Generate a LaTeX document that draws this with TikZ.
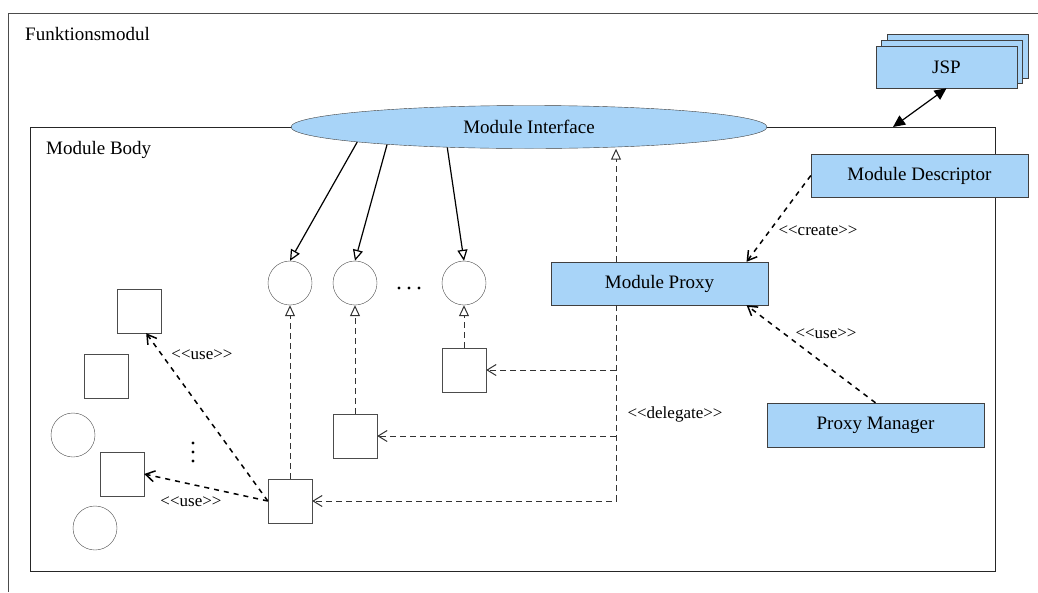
\documentclass[tikz,border=0pt]{standalone}
\usepackage{fontspec}
\setmainfont{Liberation Serif}
\usetikzlibrary{arrows.meta,shapes.geometric}
\definecolor{boxblue}{RGB}{168,212,248}
\begin{document}
\begin{tikzpicture}[x=1pt,y=-1pt,
    every node/.style={font=\fontsize{19}{22}\selectfont},
    bluebox/.style={draw=black!75,fill=boxblue,minimum width=217pt,minimum height=43pt,inner sep=0pt},
    whitebox/.style={draw=black!70,fill=white,minimum size=44pt,inner sep=0pt},
    whitecirc/.style={whitebox,circle},
    lbl/.style={font=\fontsize{17}{19}\selectfont,inner sep=0pt},
    realize/.style={draw=black!80,line width=1pt,dash pattern=on 6pt off 4pt,-{Triangle[open,length=11pt,width=10pt]}},
    delegate/.style={draw=black!80,line width=1pt,dash pattern=on 6pt off 4pt,-{Straight Barb[length=9pt,width=11pt]}},
    uselink/.style={line width=1.5pt,dash pattern=on 5pt off 5pt,-{Straight Barb[length=9pt,width=11pt]}}]
  \useasboundingbox (0,0) rectangle (1038,592);
  % frames
  \draw[black!70,line width=1pt] (1038,13) -- (8,13) -- (8,592);
  \node[anchor=base west,inner sep=0pt] (fm) at (25,40) {Funktionsmodul};
  \draw[black!85,line width=1pt] (30,127) rectangle (995,571);
  \node[anchor=base west,inner sep=0pt] (mb) at (46,154) {Module Body};
  \node[draw=black!75,fill=boxblue,ellipse,minimum width=476pt,minimum height=43pt,inner sep=0pt] (iface) at (529,127) {Module Interface};
  % jsp stack
  \node[bluebox,minimum width=141pt,minimum height=44pt] (jsp3) at (957.5,56) {};
  \node[bluebox,minimum width=141pt,minimum height=43pt] (jsp2) at (952,61.5) {};
  \node[bluebox,minimum width=141pt,minimum height=42pt] (jsp) at (946.5,67) {JSP};
  \coordinate (jspend) at (893,127);
  \draw[line width=1.2pt,{Triangle[length=12pt,width=11pt]}-{Triangle[length=12pt,width=11pt]}] (jsp.south) -- (jspend);
  % boxes
  \node[bluebox] (desc) at (919.5,175.5) {Module Descriptor};
  \node[bluebox] (proxy) at (659.5,283.5) {Module Proxy};
  \node[bluebox,minimum height=44pt] (mgr) at (875.5,425) {Proxy Manager};
  % interfaces and classes
  \node[whitecirc] (ci1) at (290,283) {};
  \node[whitecirc] (ci2) at (355,283) {};
  \node[whitecirc] (ci3) at (464,283) {};
  \foreach \x in {399,409,419} \fill (\x,288) circle (1.6pt);
  \node[whitebox] (sqa) at (464,370) {};
  \node[whitebox] (sqb) at (355,436) {};
  \node[whitebox] (sqc) at (290,501) {};
  \node[whitebox] (sqd) at (139,311) {};
  \node[whitebox] (sqe) at (106,376) {};
  \node[whitecirc] (cif) at (73,435) {};
  \node[whitebox] (sqg) at (122,474) {};
  \node[whitecirc] (cih) at (95,528) {};
  \foreach \y in {443,452,461} \fill (193,\y) circle (1.6pt);
  % interface -> circles
  \draw[line width=1.2pt,-{Triangle[open,length=11pt,width=10pt]}] (iface.185) -- (ci1.north);
  \draw[line width=1.2pt,-{Triangle[open,length=11pt,width=10pt]}] (iface.187) -- (ci2.north);
  \draw[line width=1.2pt,-{Triangle[open,length=11pt,width=10pt]}] (iface.194) -- (ci3.north);
  \draw[realize] (sqa.north) -- (ci3.south);
  \draw[realize] (sqb.north) -- (ci2.south);
  \draw[realize] (sqc.north) -- (ci1.south);
  \coordinate (dx) at (616,0);
  \draw[realize] (proxy.north -| dx) -- (iface.south -| dx);
  % delegation
  \draw[delegate] (proxy.south -| dx) |- (sqc.east);
  \draw[delegate] (dx |- sqa) -- (sqa.east);
  \draw[delegate] (dx |- sqb) -- (sqb.east);
  \node[lbl] (dlbl) at (675,414) {<{}<delegate>{}>};
  % use / create
  \draw[uselink] (desc.west) -- (proxy.14);
  \node[lbl] (clbl) at (818,231) {<{}<create>{}>};
  \draw[uselink] (mgr.north) -- (proxy.-14);
  \node[lbl] (ulbl) at (826,334) {<{}<use>{}>};
  \draw[uselink] (sqc.west) -- (sqd.-72);
  \node[lbl] (ulbl2) at (202,355) {<{}<use>{}>};
  \draw[uselink] (sqc.west) -- (sqg.east);
  \node[lbl] (ulbl3) at (191,502) {<{}<use>{}>};
\end{tikzpicture}
\end{document}
